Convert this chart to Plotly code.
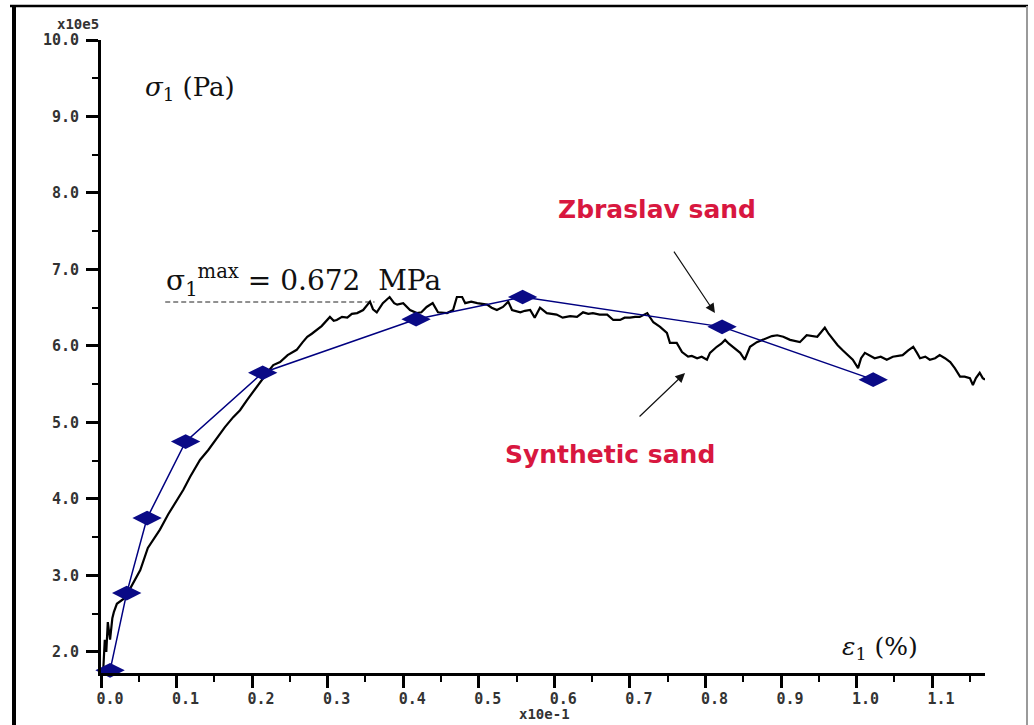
import plotly.graph_objects as go

# ---------------- data ----------------
# Synthetic sand (black noisy curve): strain (x10e-1 %) and stress (x10e5 Pa)
synthetic_x = [0.003, 0.005, 0.007, 0.009, 0.012, 0.015, 0.017, 0.021, 0.032, 0.041,
               0.052, 0.062, 0.071, 0.078, 0.089, 0.101, 0.109, 0.118, 0.131, 0.142,
               0.154, 0.164, 0.175, 0.184, 0.193, 0.201, 0.210, 0.220, 0.228, 0.237,
               0.247, 0.259, 0.267, 0.273, 0.279, 0.286, 0.292, 0.303, 0.308, 0.312,
               0.319, 0.326, 0.332, 0.339, 0.347, 0.356, 0.360, 0.365, 0.373, 0.382,
               0.388, 0.392, 0.400, 0.409, 0.418, 0.424, 0.431, 0.439, 0.446, 0.458,
               0.466, 0.471, 0.478, 0.482, 0.490, 0.498, 0.511, 0.517, 0.524, 0.532,
               0.539, 0.544, 0.555, 0.561, 0.568, 0.574, 0.581, 0.590, 0.597, 0.603,
               0.611, 0.621, 0.630, 0.638, 0.645, 0.651, 0.660, 0.670, 0.678, 0.687,
               0.693, 0.700, 0.707, 0.713, 0.723, 0.731, 0.740, 0.749, 0.753, 0.762,
               0.769, 0.777, 0.782, 0.789, 0.795, 0.802, 0.806, 0.815, 0.821, 0.826,
               0.831, 0.836, 0.846, 0.852, 0.859, 0.868, 0.875, 0.881, 0.888, 0.895,
               0.903, 0.912, 0.918, 0.925, 0.934, 0.941, 0.948, 0.953, 0.958, 0.963,
               0.969, 0.975, 0.982, 0.989, 0.995, 1.002, 1.006, 1.011, 1.018, 1.024,
               1.032, 1.040, 1.048, 1.055, 1.061, 1.068, 1.075, 1.080, 1.084, 1.091,
               1.097, 1.104, 1.110, 1.117, 1.124, 1.130, 1.137, 1.143, 1.150, 1.154,
               1.158, 1.163, 1.167, 1.170]
synthetic_y = [1.77, 2.16, 2.00, 2.39, 2.16, 2.44, 2.52, 2.63, 2.71, 2.88,
               3.07, 3.36, 3.50, 3.60, 3.80, 3.99, 4.12, 4.29, 4.51, 4.64,
               4.81, 4.94, 5.07, 5.16, 5.29, 5.40, 5.52, 5.65, 5.75, 5.79,
               5.88, 5.95, 6.05, 6.12, 6.16, 6.21, 6.26, 6.38, 6.33, 6.34,
               6.38, 6.37, 6.42, 6.43, 6.47, 6.58, 6.48, 6.44, 6.56, 6.64,
               6.56, 6.54, 6.56, 6.47, 6.43, 6.44, 6.51, 6.56, 6.44, 6.43,
               6.47, 6.64, 6.64, 6.56, 6.58, 6.56, 6.54, 6.50, 6.47, 6.51,
               6.58, 6.47, 6.44, 6.46, 6.47, 6.37, 6.50, 6.43, 6.42, 6.41,
               6.37, 6.39, 6.38, 6.44, 6.42, 6.43, 6.41, 6.41, 6.34, 6.34,
               6.37, 6.37, 6.38, 6.38, 6.43, 6.31, 6.25, 6.17, 6.04, 6.04,
               5.92, 5.86, 5.87, 5.84, 5.86, 5.82, 5.91, 5.99, 6.03, 6.08,
               6.03, 5.99, 5.91, 5.82, 5.99, 6.05, 6.08, 6.10, 6.13, 6.14,
               6.12, 6.08, 6.07, 6.05, 6.14, 6.13, 6.12, 6.18, 6.24, 6.16,
               6.08, 6.01, 5.94, 5.87, 5.82, 5.71, 5.84, 5.91, 5.87, 5.84,
               5.86, 5.82, 5.86, 5.87, 5.88, 5.94, 5.99, 5.91, 5.84, 5.86,
               5.82, 5.84, 5.88, 5.84, 5.79, 5.71, 5.60, 5.60, 5.58, 5.49,
               5.58, 5.65, 5.58, 5.56]

# Zbraslav sand (blue diamonds)
zbraslav_x = [0.012, 0.034, 0.061, 0.112, 0.214, 0.417, 0.558, 0.822, 1.022]
zbraslav_y = [1.76, 2.77, 3.75, 4.75, 5.65, 6.35, 6.64, 6.25, 5.56]

# peak reference (dashed) line
peak_x = [0.085, 0.362]
peak_y = [6.575, 6.575]

y_ticks = [2, 3, 4, 5, 6, 7, 8, 9, 10]
x_ticks = [0.0, 0.1, 0.2, 0.3, 0.4, 0.5, 0.6, 0.7, 0.8, 0.9, 1.0, 1.1]

# ---------------- layout geometry ----------------
W, H = 1034, 725
ML, MR, MT, MB = 101, 49, 40, 52
PW, PH = W - ML - MR, H - MT - MB


def px(x):
    return (x - ML) / PW


def py(y):
    return (H - MB - y) / PH


RED = "#d8173f"
NAVY = "#000080"

fig = go.Figure()

fig.add_trace(go.Scatter(
    x=peak_x, y=peak_y, mode="lines",
    line=dict(color="#222", width=1, dash="5px,3px"),
    hoverinfo="skip", showlegend=False))

fig.add_trace(go.Scatter(
    x=synthetic_x, y=synthetic_y, mode="lines",
    line=dict(color="#000", width=2.2),
    cliponaxis=False, hoverinfo="skip", showlegend=False))

fig.add_trace(go.Scatter(
    x=zbraslav_x, y=zbraslav_y, mode="lines+markers",
    line=dict(color=NAVY, width=1.5),
    marker=dict(symbol="diamond-wide", size=21, color="#0a0a86",
                line=dict(width=0)),
    cliponaxis=False, hoverinfo="skip", showlegend=False))

tick_font = dict(family="DejaVu Sans Mono", size=15, color="#333", weight="bold")

fig.update_xaxes(
    range=[0, 1.17], tickvals=x_ticks, ticktext=[f"{v:.1f}" for v in x_ticks],
    showgrid=False, zeroline=False,
    showline=True, linewidth=3, linecolor="#000",
    ticks="outside", ticklen=12, tickwidth=2.5, tickcolor="#000",
    minor=dict(dtick=0.05, tick0=0, ticks="outside", ticklen=6, tickwidth=1.5, tickcolor="#000"),
    tickfont=tick_font, ticklabelshift=9, ticklabelstandoff=-2,
)
fig.update_yaxes(
    range=[1.725, 10], tickvals=y_ticks, ticktext=[f"{v:.1f}" for v in y_ticks],
    showgrid=False, zeroline=False,
    showline=True, linewidth=3, linecolor="#000",
    ticks="outside", ticklen=12, tickwidth=2.5, tickcolor="#000",
    minor=dict(dtick=0.5, tick0=0, ticks="outside", ticklen=6, tickwidth=1.5, tickcolor="#000"),
    tickfont=tick_font, ticklabelstandoff=4,
)

mono_small = dict(family="DejaVu Sans Mono", size=14, color="#333", weight="bold")
annotations = [
    dict(x=px(78), y=py(24), xref="paper", yref="paper", text="x10e5",
         xanchor="center", yanchor="middle", showarrow=False, font=mono_small),
    dict(x=px(544), y=py(714), xref="paper", yref="paper", text="x10e-1",
         xanchor="center", yanchor="middle", showarrow=False, font=mono_small),
    dict(x=0.055, y=9.37, xref="x", yref="y", xanchor="left", yanchor="middle",
         text="<i>σ</i><sub>1</sub> (Pa)", showarrow=False,
         font=dict(family="DejaVu Serif", size=26, color="#111")),
    dict(x=0.978, y=2.05, xref="x", yref="y", xanchor="left", yanchor="middle",
         text="<i>ε</i><sub>1</sub> (%)", showarrow=False,
         font=dict(family="DejaVu Serif", size=25, color="#111")),
    dict(x=0.084, y=6.85, xref="x", yref="y", xanchor="left", yanchor="middle",
         text="σ<sub>1</sub><sup>max</sup> = 0.672  MPa", showarrow=False,
         font=dict(family="DejaVu Serif", size=28, color="#111")),
    dict(x=0.736, y=7.78, xref="x", yref="y", text="Zbraslav sand",
         xanchor="center", yanchor="middle",
         showarrow=False, font=dict(family="DejaVu Sans", size=25, color=RED, weight="bold")),
    dict(x=0.674, y=4.575, xref="x", yref="y", text="Synthetic sand",
         xanchor="center", yanchor="middle",
         showarrow=False, font=dict(family="DejaVu Sans", size=25, color=RED, weight="bold")),
    # arrows
    dict(x=0.8126, y=6.43, xref="x", yref="y", ax=-42, ay=-63, text="",
         showarrow=True, arrowhead=2, arrowsize=1.6, arrowwidth=1.2, arrowcolor="#111"),
    dict(x=0.773, y=5.647, xref="x", yref="y", ax=-47, ay=45, text="",
         showarrow=True, arrowhead=2, arrowsize=1.6, arrowwidth=1.2, arrowcolor="#111"),
]

shapes = [
    dict(type="line", xref="paper", yref="paper", x0=px(14), x1=px(14), y0=py(5), y1=py(730),
         line=dict(color="#000", width=4)),
    dict(type="line", xref="paper", yref="paper", x0=px(10), x1=px(1028), y0=py(6), y1=py(6),
         line=dict(color="#000", width=2.5)),
    dict(type="line", xref="paper", yref="paper", x0=px(1027), x1=px(1027), y0=py(6), y1=py(730),
         line=dict(color="#9a9a9a", width=2)),
]

fig.update_layout(
    width=W, height=H,
    margin=dict(l=ML, r=MR, t=MT, b=MB, pad=0),
    paper_bgcolor="white", plot_bgcolor="white",
    annotations=annotations, shapes=shapes,
    showlegend=False,
)

fig.write_html("out.html")
